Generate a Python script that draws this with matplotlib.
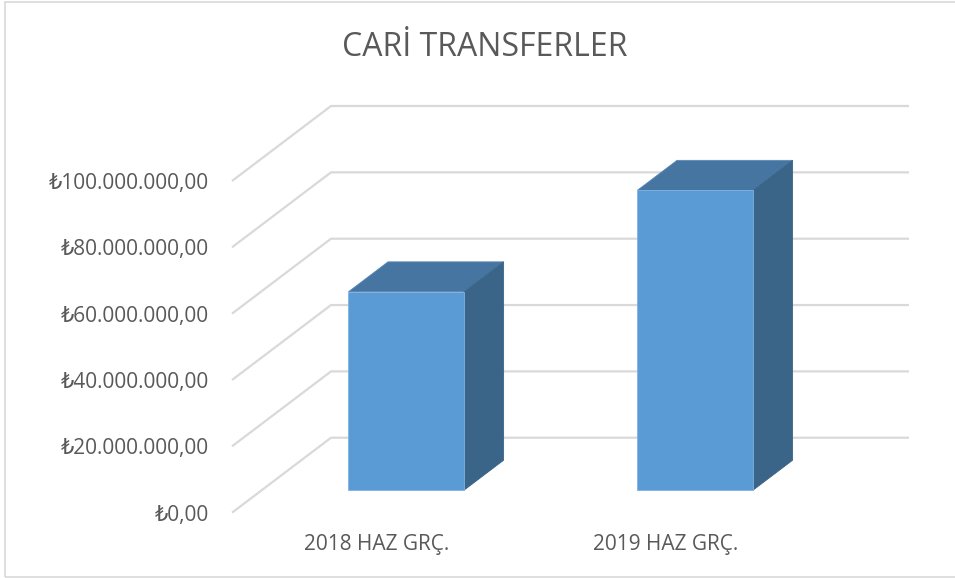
import matplotlib.pyplot as plt
from matplotlib.patches import Polygon, Rectangle

# Data
categories = ['2018 HAZ GRÇ.', '2019 HAZ GRÇ.']
values = [59.8e6, 90.4e6]
tick_values = [0, 20e6, 40e6, 60e6, 80e6, 100e6]
tick_labels = ['₺0,00', '₺20.000.000,00', '₺40.000.000,00',
               '₺60.000.000,00', '₺80.000.000,00', '₺100.000.000,00']
title = 'CARİ TRANSFERLER'

# oblique "3D" look: depth shifts x (category units) and y (value units)
DX = 0.3426
DY = 22.6e6
BAR_W = 0.40
D_FRONT, D_BACK = 0.3, 0.7

FRONT = '#5B9BD5'
TOP = '#4575A0'
SIDE = '#3A6488'
GRID = '#D9D9D9'
TXT = '#595959'

plt.rcParams['font.family'] = ['Open Sans', 'DejaVu Sans']


def proj(x, v, d):
    # map (category, value, depth) to 2D axis coords
    return (x + d * DX, v + d * DY)


fig = plt.figure(figsize=(9.55, 5.78), dpi=100)
ax = fig.add_axes([232 / 955, 1 - 512.7 / 578, 677 / 955, 406.7 / 578])

x0, x1 = -0.5, len(categories) - 0.5
ax.set_xlim(x0, x1 + DX)
ax.set_ylim(0, tick_values[-1] + DY)

# gridlines: diagonal on the side wall + horizontal on back wall
for v in tick_values:
    pts = [proj(x0, v, 0), proj(x0, v, 1), proj(x1, v, 1)]
    ax.plot([p[0] for p in pts], [p[1] for p in pts], color=GRID, lw=1.6,
            zorder=1, clip_on=False, solid_capstyle='butt')

# bars
for i, v in enumerate(values):
    l, r = i - BAR_W / 2, i + BAR_W / 2
    top = [proj(l, v, D_FRONT), proj(r, v, D_FRONT), proj(r, v, D_BACK), proj(l, v, D_BACK)]
    side = [proj(r, 0, D_FRONT), proj(r, v, D_FRONT), proj(r, v, D_BACK), proj(r, 0, D_BACK)]
    front = [proj(l, 0, D_FRONT), proj(r, 0, D_FRONT), proj(r, v, D_FRONT), proj(l, v, D_FRONT)]
    ax.add_patch(Polygon(top, closed=True, facecolor=TOP, edgecolor='#5A8AB8', lw=0.6, zorder=3))
    ax.add_patch(Polygon(side, closed=True, facecolor=SIDE, edgecolor=SIDE, lw=0.6, zorder=3))
    ax.add_patch(Polygon(front, closed=True, facecolor=FRONT, edgecolor='#7FB2E0', lw=0.6, zorder=4))

ax.set_yticks(tick_values)
ax.set_yticklabels(tick_labels)
ax.set_xticks(range(len(categories)))
ax.set_xticklabels(categories)
ax.tick_params(axis='y', length=0, pad=16.5, labelsize=15, labelcolor=TXT)
ax.tick_params(axis='x', length=0, pad=15.5, labelsize=15, labelcolor=TXT)
for s in ax.spines.values():
    s.set_visible(False)
ax.patch.set_alpha(0)

fig.text(485 / 955, 1 - 47 / 578, title, ha='center', va='center',
         fontsize=23, color=TXT)

# chart area border
fig.add_artist(Rectangle((5 / 955, 1 / 578), 1.0, 575 / 578, transform=fig.transFigure,
                         facecolor='none', edgecolor=GRID, lw=1.2))

fig.savefig('out.png', dpi=100)
